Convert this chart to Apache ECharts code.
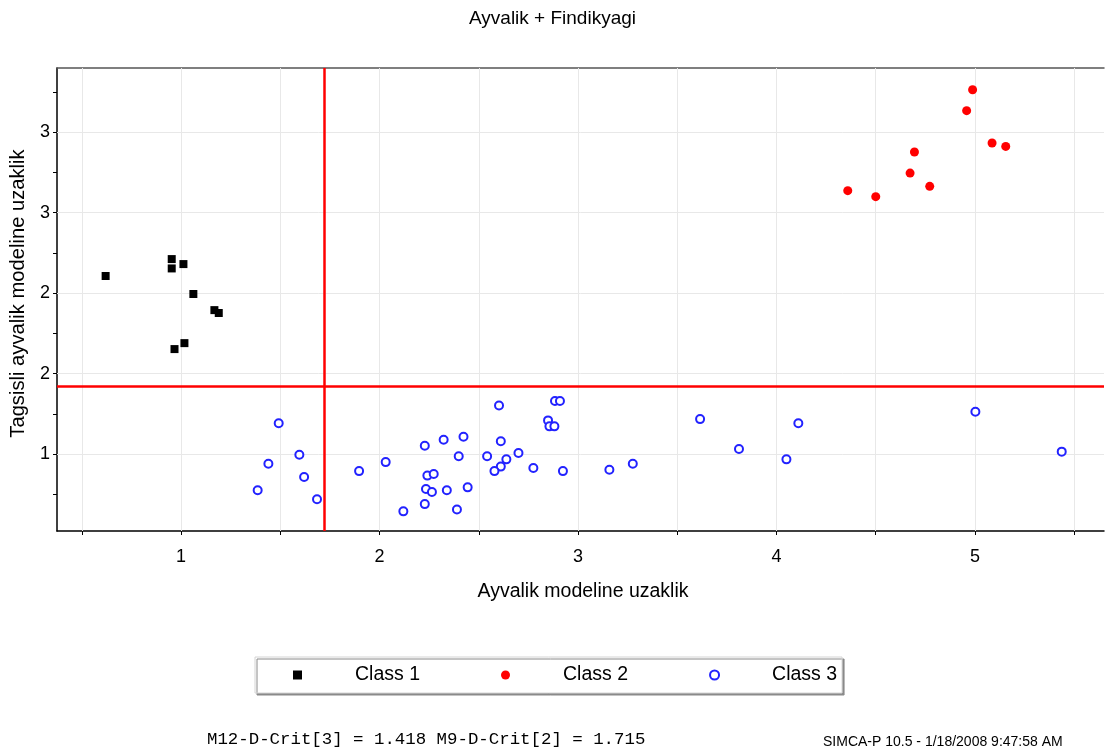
<!DOCTYPE html>
<html>
<head>
<meta charset="utf-8">
<title>Ayvalik + Findikyagi</title>
<script src="https://cdn.jsdelivr.net/npm/echarts@6/dist/echarts.min.js"></script>
<style>
  html, body { margin: 0; padding: 0; background: #fff; }
  #chart { width: 1105px; height: 752px; }
</style>
</head>
<body>
<div id="chart"></div>
<script>
// Distances to the two class models (x: Ayvalik model, y: Tagsisli ayvalik model)
const class1X = [0.620, 0.953, 0.953, 1.012, 1.062, 1.168, 1.190, 1.017, 0.967];
const class1Y = [2.106, 2.211, 2.153, 2.180, 1.994, 1.894, 1.876, 1.689, 1.652];

const class2X = [4.988, 4.958, 5.086, 5.155, 4.695, 4.673, 4.772, 4.359, 4.500];
const class2Y = [3.263, 3.133, 2.932, 2.911, 2.876, 2.745, 2.663, 2.636, 2.599];

const class3X = [1.492, 1.440, 1.386, 1.596, 1.620, 1.685, 1.897, 2.031, 2.228, 2.323,
                 2.423, 2.399, 2.241, 2.273, 2.234, 2.264, 2.339, 2.444, 2.228, 2.120,
                 2.390, 2.602, 2.611, 2.542, 2.639, 2.611, 2.579, 2.700, 2.775, 2.849,
                 2.856, 2.881, 2.884, 2.909, 2.924, 3.158, 3.276, 3.615, 3.811, 4.050,
                 4.110, 5.002, 5.437];
const class3Y = [1.191, 0.940, 0.775, 0.996, 0.857, 0.719, 0.894, 0.950, 1.052, 1.089,
                 1.108, 0.986, 0.866, 0.876, 0.783, 0.764, 0.775, 0.793, 0.689, 0.644,
                 0.655, 1.302, 1.079, 0.986, 0.967, 0.922, 0.894, 1.006, 0.913, 1.209,
                 1.172, 1.172, 1.329, 1.329, 0.894, 0.903, 0.940, 1.217, 1.031, 0.967,
                 1.191, 1.263, 1.015];

// Critical distances (D-Crit) for each model
const critNames = ['M12-D-Crit[3]', 'M9-D-Crit[2]'];
const critValues = [1.418, 1.715];   // [horizontal (y), vertical (x)]

// Axis ticks and labels
const xTickValues = [0.5, 1, 1.5, 2, 2.5, 3, 3.5, 4, 4.5, 5, 5.5];
const xLabelValues = [1, 2, 3, 4, 5];
const xLabelTexts = ['1', '2', '3', '4', '5'];
const yTickValues = [0.75, 1, 1.25, 1.5, 1.75, 2, 2.25, 2.5, 2.75, 3, 3.25];
const yLabelValues = [1, 1.5, 2, 2.5, 3];
const yLabelTexts = ['1', '2', '2', '3', '3'];

const seriesNames = ['Class 1', 'Class 2', 'Class 3'];
const titleText = 'Ayvalik + Findikyagi';
const xAxisTitle = 'Ayvalik modeline uzaklik';
const yAxisTitle = 'Tagsisli ayvalik modeline uzaklik';
const footerRight = 'SIMCA-P 10.5 - 1/18/2008 9:47:58 AM';

const FONT = '"Liberation Sans", Arial, sans-serif';
const xRange = [0.375, 5.65];
const yRange = [0.522, 3.398];

const zip = (xs, ys) => xs.map((x, i) => [x, ys[i]]);

const chart = echarts.init(document.getElementById('chart'), null, { renderer: 'canvas' });

const footerLeft = critNames.map((n, i) => n + ' = ' + critValues[i].toFixed(3)).join(' ');

const option = {
  animation: false,
  backgroundColor: '#ffffff',
  textStyle: { fontFamily: FONT },
  title: [
    {
      text: titleText,
      left: 'center',
      top: 4,
      textStyle: { fontFamily: FONT, fontSize: 19, fontWeight: 'normal', color: '#000' }
    },
    {
      text: footerLeft,
      left: 202,
      top: 726,
      textStyle: { fontFamily: '"Liberation Mono", "Courier New", monospace', fontSize: 17.4, fontWeight: 'normal', color: '#000' }
    },
    {
      text: footerRight,
      left: 818,
      top: 730,
      textStyle: { fontFamily: FONT, fontSize: 14, fontWeight: 'normal', color: '#000' }
    }
  ],
  legend: {
    left: 255,
    top: 657,
    orient: 'horizontal',
    padding: [8, 5, 8, 38],
    itemGap: 81,
    itemWidth: 9,
    itemHeight: 9,
    backgroundColor: '#ffffff',
    borderColor: '#d4d4d4',
    borderWidth: 1,
    shadowColor: '#8a8a8a',
    shadowBlur: 0,
    shadowOffsetX: 2,
    shadowOffsetY: 2,
    textStyle: { fontFamily: FONT, fontSize: 19.5, color: '#000', padding: [0, 0, 0, 48] },
    data: [
      { name: seriesNames[0], icon: 'rect' },
      { name: seriesNames[1], icon: 'circle' },
      { name: seriesNames[2], icon: 'emptyCircle' }
    ]
  },
  grid: { left: 57, top: 68, right: 1, bottom: 221, containLabel: false },
  xAxis: [
    {
      type: 'value',
      min: xRange[0],
      max: xRange[1],
      name: xAxisTitle,
      nameLocation: 'middle',
      nameGap: 51,
      nameTextStyle: { fontFamily: FONT, fontSize: 19.5, color: '#000', padding: [0, 0, 0, 5] },
      axisLine: { show: true, onZero: false, lineStyle: { color: '#000', width: 1.5 } },
      axisTick: { show: true, length: 4, customValues: xTickValues, lineStyle: { color: '#000', width: 1 } },
      axisLabel: {
        show: true,
        customValues: xLabelValues,
        margin: 17,
        fontFamily: FONT,
        fontSize: 18,
        color: '#000',
        formatter: v => {
          const i = xLabelValues.findIndex(t => Math.abs(t - v) < 1e-9);
          return i >= 0 ? xLabelTexts[i] : '';
        }
      },
      splitLine: { show: false }
    },
    {
      type: 'value',
      position: 'top',
      min: xRange[0],
      max: xRange[1],
      axisLine: { show: true, onZero: false, lineStyle: { color: '#555', width: 1.5 } },
      axisTick: { show: false },
      axisLabel: { show: false },
      splitLine: { show: false }
    }
  ],
  yAxis: {
    type: 'value',
    min: yRange[0],
    max: yRange[1],
    name: yAxisTitle,
    nameLocation: 'middle',
    nameGap: 29,
    nameTextStyle: { fontFamily: FONT, fontSize: 20.2, color: '#000', padding: [0, 0, 0, 12] },
    axisLine: { show: true, onZero: false, lineStyle: { color: '#000', width: 1.5 } },
    axisTick: { show: true, length: 4, customValues: yTickValues, lineStyle: { color: '#000', width: 1 } },
    axisLabel: {
      show: true,
      customValues: yLabelValues,
      margin: 7,
      fontFamily: FONT,
      fontSize: 18,
      color: '#000',
      formatter: v => {
        const i = yLabelValues.findIndex(t => Math.abs(t - v) < 1e-9);
        return i >= 0 ? yLabelTexts[i] : '';
      }
    },
    splitLine: { show: false }
  },
  series: [
    {
      // light grid lines at the axis ticks
      name: 'grid',
      type: 'scatter',
      data: [],
      silent: true,
      z: 1,
      markLine: {
        silent: true,
        z: 1,
        symbol: ['none', 'none'],
        label: { show: false },
        lineStyle: { color: '#e8e8e8', width: 1, type: 'solid' },
        data: xTickValues.map(v => ({ xAxis: v })).concat(yLabelValues.map(v => ({ yAxis: v })))
      }
    },
    {
      // critical distance limits
      name: 'crit',
      type: 'scatter',
      data: [],
      silent: true,
      z: 2,
      markLine: {
        silent: true,
        z: 2,
        symbol: ['none', 'none'],
        label: { show: false },
        lineStyle: { color: '#ff0000', width: 2.5, type: 'solid' },
        data: [{ yAxis: critValues[0] }, { xAxis: critValues[1] }]
      }
    },
    {
      name: seriesNames[0],
      type: 'scatter',
      symbol: 'rect',
      symbolSize: 8,
      z: 4,
      itemStyle: { color: '#000000', opacity: 1 },
      data: zip(class1X, class1Y)
    },
    {
      name: seriesNames[1],
      type: 'scatter',
      symbol: 'circle',
      symbolSize: 9,
      z: 4,
      itemStyle: { color: '#ff0000', opacity: 1 },
      data: zip(class2X, class2Y)
    },
    {
      name: seriesNames[2],
      type: 'scatter',
      symbol: 'emptyCircle',
      symbolSize: 8,
      z: 4,
      itemStyle: { color: '#2222ff', borderWidth: 1.2, opacity: 1 },
      data: zip(class3X, class3Y)
    }
  ]
};

chart.setOption(option);
</script>
</body>
</html>
